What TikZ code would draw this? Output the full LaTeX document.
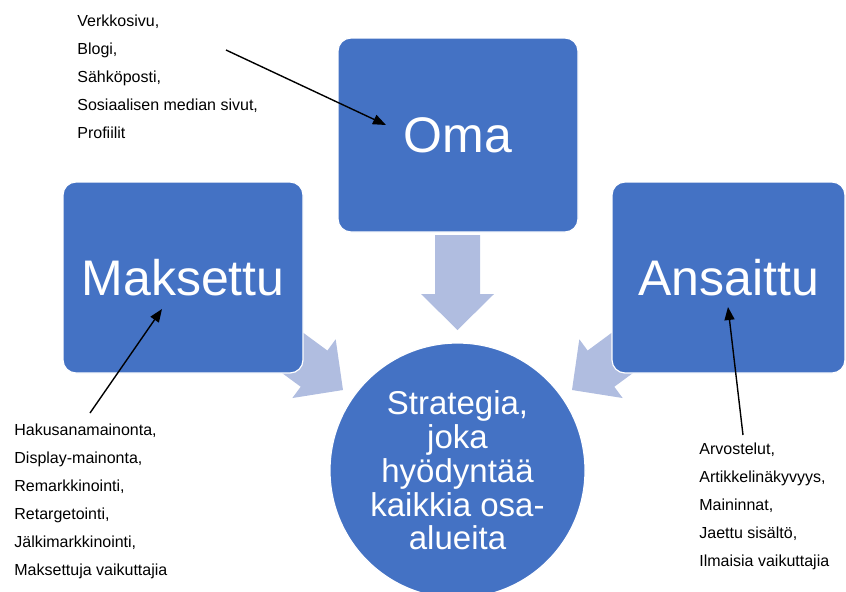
\documentclass[tikz,border=0pt]{standalone}
\usepackage{fontspec}
\setmainfont{Liberation Sans}
\usetikzlibrary{arrows.meta}

\definecolor{areablue}{HTML}{4472C4}
\definecolor{flowblue}{HTML}{B0BDE0}

% light block arrow, tip at the origin, pointing along +x
\newcommand{\flowarrow}[1]{%
  \fill[flowblue] (0,0) -- (-36,-36.5) -- (-36,-22.5) -- (-#1,-22.5)
    -- (-#1,22.5) -- (-36,22.5) -- (-36,36.5) -- cycle;}

\begin{document}
\begin{tikzpicture}[x=0.5pt, y=-0.5pt, >={Triangle[length=6.5pt, width=5pt]},
  area/.style={fill=areablue, draw=white, line width=0.6pt, rounded corners=6.5pt,
    text=white, inner sep=0pt, font=\fontsize{25}{30}\selectfont},
  listtext/.style={align=left, anchor=north west, inner sep=0pt,
    font=\fontsize{8}{14}\selectfont},
  pointer/.style={->, line width=0.7pt}]
  \useasboundingbox (0,0) rectangle (846,591);
  \clip (0,0) rectangle (846,591);
  % Flow arrows
  \begin{scope}[shift={(457.5,330)}, rotate=-90] \flowarrow{95} \end{scope}
  \begin{scope}[shift={(343,390)}, rotate=-36.4] \flowarrow{110} \end{scope}
  \begin{scope}[shift={(572,390)}, rotate=-143.6] \flowarrow{110} \end{scope}
  % Areas
  \node[area, minimum width=120pt, minimum height=97pt] (oma) at (458,135) {Oma};
  \node[area, minimum width=120pt, minimum height=95.5pt] (maksettu) at (183,277.5) {Maksettu};
  \node[area, minimum width=116.5pt, minimum height=95.5pt] (ansaittu) at (728.5,277.5) {Ansaittu};
  \node[circle, fill=areablue, draw=white, line width=0.6pt, minimum size=127.5pt,
    inner sep=0pt, text=white, align=center, font=\fontsize{16.5}{16.9}\selectfont]
    (strategia) at (457.5,470.5) {Strategia,\\joka\\hyödyntää\\kaikkia osa-\\alueita};
  % Channel lists
  \node[listtext] (omalist) at (77,14)
    {Verkkosivu,\\Blogi,\\Sähköposti,\\Sosiaalisen median sivut,\\Profiilit};
  \node[listtext] (maksettulist) at (14,423)
    {Hakusanamainonta,\\Display-mainonta,\\Remarkkinointi,\\Retargetointi,\\Jälkimarkkinointi,\\Maksettuja vaikuttajia};
  \node[listtext] (ansaittulist) at (699,442)
    {Arvostelut,\\Artikkelinäkyvyys,\\Maininnat,\\Jaettu sisältö,\\Ilmaisia vaikuttajia};
  \coordinate (omafrom) at (226,50);
  \coordinate (omato) at (386,125);
  \coordinate (maksettufrom) at (90,413);
  \coordinate (maksettuto) at (162,309);
  \coordinate (ansaittufrom) at (743,435);
  \coordinate (ansaittuto) at (728,307);
  \draw[pointer] (omafrom) -- (omato);
  \draw[pointer] (maksettufrom) -- (maksettuto);
  \draw[pointer] (ansaittufrom) -- (ansaittuto);
\end{tikzpicture}
\end{document}
